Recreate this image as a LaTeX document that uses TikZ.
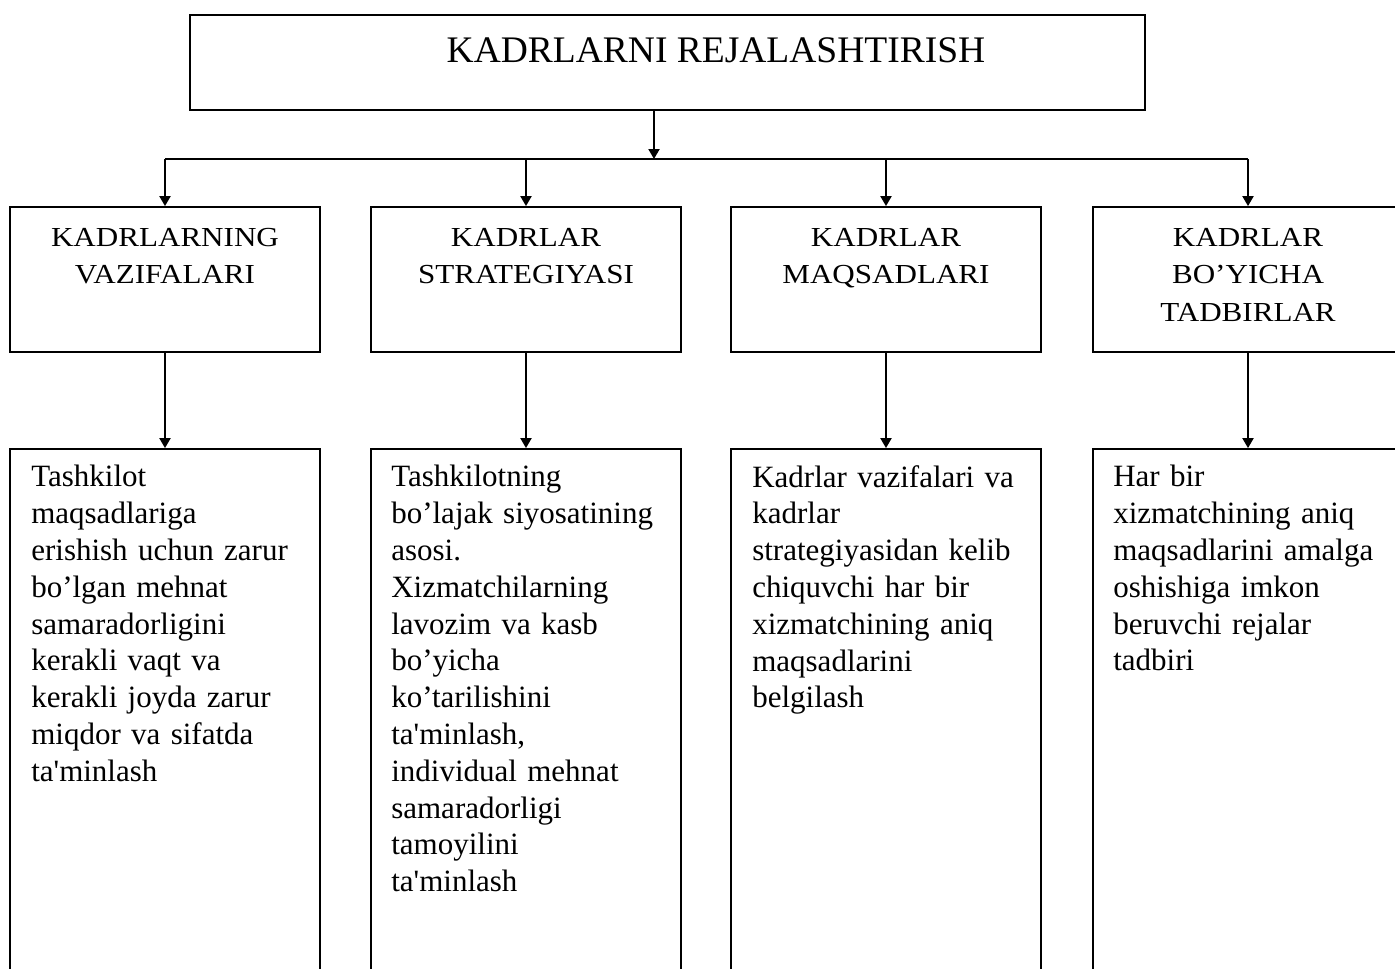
\documentclass[tikz,border=0pt]{standalone}
\usepackage{fontspec}
\setmainfont{Liberation Serif}[Ligatures={TeXOff,NoCommon}]
\newfontfamily\headfont{Liberation Serif}[Ligatures={TeXOff,NoCommon},FakeStretch=1.13]
\usetikzlibrary{arrows.meta,positioning}

\begin{document}
\begin{tikzpicture}[x=1pt,y=-1pt,>={Triangle[width=11pt,length=10pt]},
  box/.style={draw,line width=1.8pt,inner sep=0pt},
  topbox/.style={box,minimum width=955pt,minimum height=95pt},
  midbox/.style={box,minimum width=310pt,minimum height=145pt},
  lowbox/.style={box,minimum width=310pt,minimum height=560pt},
  titletext/.style={inner sep=0pt,anchor=base,font=\fontsize{37.5}{44}\selectfont},
  headtext/.style={align=center,inner sep=0pt,font=\headfont\fontsize{27.5}{37.3}\selectfont},
  bodytext/.style={align=left,inner sep=0pt,text width=285pt,font=\fontsize{31}{36.8}\selectfont},
  link/.style={line width=2pt}]
  \path[use as bounding box] (0,0) rectangle (1395,969);
  \clip (0,0) rectangle (1395,969);
  % Kopf
  \node[topbox] (plan) at (667.5,62.5) {};
  \node[titletext] (titel) at (716,62) {KADRLARNI REJALASHTIRISH};
  % mittlere Kaesten
  \node[midbox] (vazifa) at (165,279.5) {};
  \node[midbox] (strateg) at (526,279.5) {};
  \node[midbox] (maqsad) at (886,279.5) {};
  \node[midbox] (tadbir) at (1248,279.5) {};
  \node[headtext,below=22pt of vazifa.north] (vazifaH) {KADRLARNING\\VAZIFALARI};
  \node[headtext,below=22pt of strateg.north] (strategH) {KADRLAR\\STRATEGIYASI};
  \node[headtext,below=22pt of maqsad.north] (maqsadH) {KADRLAR\\MAQSADLARI};
  \node[headtext,below=22pt of tadbir.north] (tadbirH) {KADRLAR\\BO’YICHA\\TADBIRLAR};
  % untere Kaesten
  \node[lowbox] (vazifaT) at (165,729) {};
  \node[lowbox] (strategT) at (526,729) {};
  \node[lowbox] (maqsadT) at (886,729) {};
  \node[lowbox] (tadbirT) at (1248,729) {};
  \node[bodytext,below right=17pt and 22pt of vazifaT.north west] (vazifaB)
    {Tashkilot\\maqsadlariga\\erishish uchun zarur\\bo’lgan mehnat\\samaradorligini\\kerakli vaqt va\\kerakli joyda zarur\\miqdor va sifatda\\ta'minlash};
  \node[bodytext,below right=17pt and 21pt of strategT.north west] (strategB)
    {Tashkilotning\\bo’lajak siyosatining\\asosi.\\Xizmatchilarning\\lavozim va kasb\\bo’yicha\\ko’tarilishini\\ta'minlash,\\individual mehnat\\samaradorligi\\tamoyilini\\ta'minlash};
  \node[bodytext,below right=17pt and 22pt of maqsadT.north west] (maqsadB)
    {Kadrlar vazifalari va\\kadrlar\\strategiyasidan kelib\\chiquvchi har bir\\xizmatchining aniq\\maqsadlarini\\belgilash};
  \node[bodytext,below right=17pt and 21pt of tadbirT.north west] (tadbirB)
    {Har bir\\xizmatchining aniq\\maqsadlarini amalga\\oshishiga imkon\\beruvchi rejalar\\tadbiri};
  % Verbindungen
  \coordinate (knoten) at (654,159);
  \draw[link,->] (plan.south -| knoten) -- (knoten);
  \draw[link] (vazifa.north |- knoten) -- (tadbir.north |- knoten);
  \foreach \k in {vazifa,strateg,maqsad,tadbir} {
    \draw[link,->] (\k.north |- knoten) -- (\k.north);
    \draw[link,->] (\k.south) -- (\k T.north);
  }
\end{tikzpicture}
\end{document}
